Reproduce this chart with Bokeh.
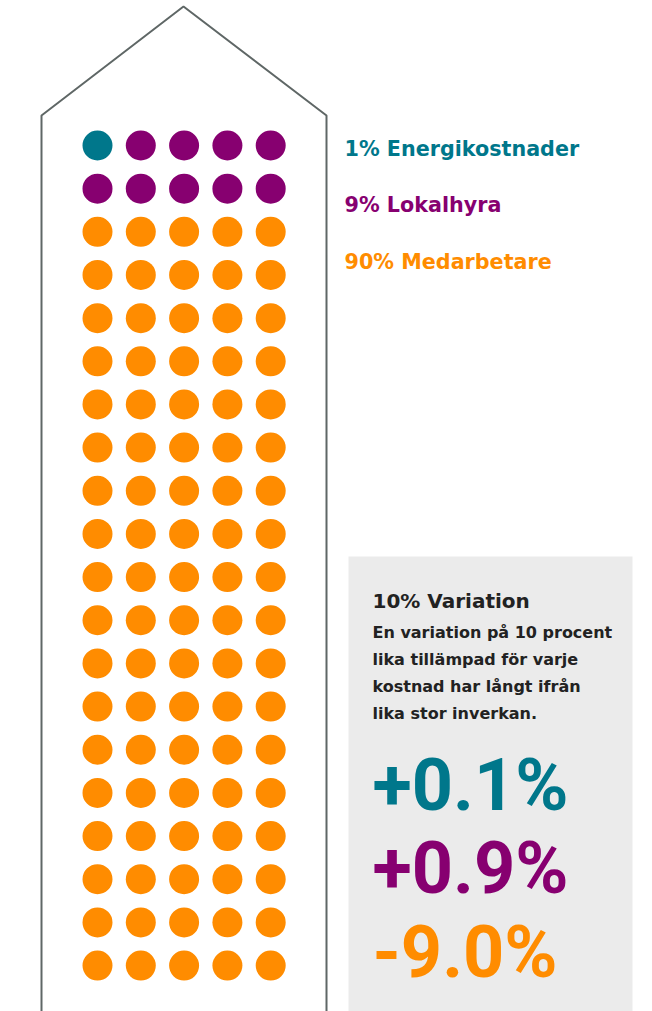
from bokeh.plotting import figure
from bokeh.models import Range1d
from bokeh.core.properties import value
from bokeh.embed import file_html
from bokeh.resources import INLINE

# ---- data ----
categories = ["Energikostnader", "Lokalhyra", "Medarbetare"]
shares = [1, 9, 90]
colors = ["#00778b", "#870070", "#ff8c00"]
variation_labels = ["+0.1%", "+0.9%", "-9.0%"]
box_title = "10% Variation"
box_lines = ["En variation på 10 procent", "lika tillämpad för varje",
             "kostnad har långt ifrån", "lika stor inverkan."]

W, H = 652, 1011
p = figure(width=W, height=H, output_backend="svg", toolbar_location=None,
           x_range=Range1d(0, W), y_range=Range1d(H, 0), min_border=0)
p.axis.visible = False
p.grid.visible = False
p.outline_line_color = None
p.background_fill_color = "white"
p.border_fill_color = "white"

# house outline
p.line([41, 41, 183, 326, 326], [H + 5, 115, 6, 115, H + 5],
       line_color="#5f6766", line_width=2)

# dots: 5 columns, fill row by row
ncol = 5
x0, dx = 97, 43.3
y0, dy = 145, 43.16
xs, ys, cs = [], [], []
k = 0
for share, col in zip(shares, colors):
    for _ in range(share):
        r, c = divmod(k, ncol)
        xs.append(x0 + c * dx)
        ys.append(y0 + r * dy)
        cs.append(col)
        k += 1
p.scatter(xs, ys, size=30, fill_color=cs, line_color=None)

small_font = value("DejaVu Sans")
big_font = value("Roboto")
# legend labels
ly = [148, 204, 261]
p.text(x=[344] * 3, y=ly, text=[f"{s}% {c}" for s, c in zip(shares, categories)],
       text_color=colors, text_font=small_font, text_font_style="bold",
       text_font_size="20.7px", text_baseline="middle", text_align="left")

# gray box
p.quad(left=348, right=632, top=556, bottom=H + 5, fill_color="#ebebeb", line_color=None)

p.text(x=[372], y=[600], text=[box_title], text_color="#222222", text_font=small_font,
       text_font_style="bold", text_font_size="20px", text_baseline="middle")
p.text(x=[372] * 4, y=[632, 659, 686, 713], text=box_lines, text_color="#222222",
       text_font=small_font, text_font_style="bold", text_font_size="16px",
       text_baseline="middle")

p.text(x=[372] * 3, y=[785, 868, 952], text=variation_labels, text_color=colors,
       text_font=big_font, text_font_style="bold", text_font_size="72px",
       text_baseline="middle")

open("out.html", "w").write(file_html(p, INLINE))
